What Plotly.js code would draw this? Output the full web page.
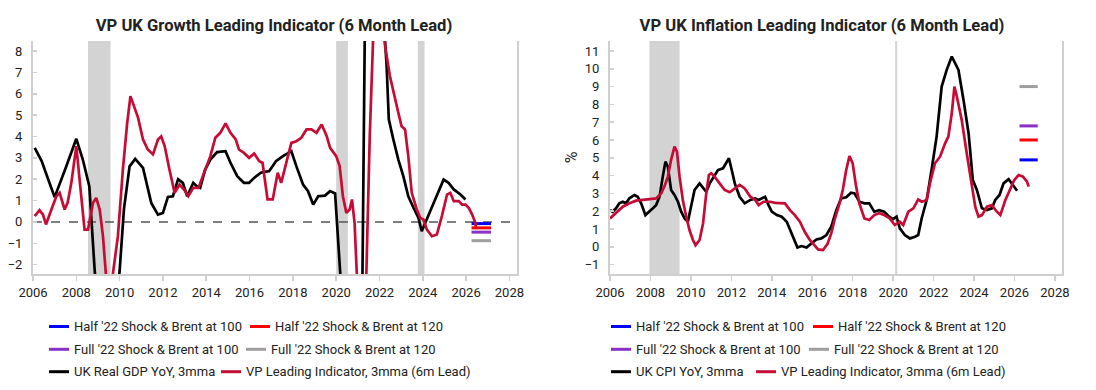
<!DOCTYPE html>
<html><head><meta charset="utf-8">
<script src="https://cdn.plot.ly/plotly-3.0.1.min.js"></script>
<style>
html,body{margin:0;padding:0;background:#fff;overflow:hidden}
#wrap{display:flex;width:1096px;height:390px}
#growth,#inflation{width:548px;height:390px}
</style></head>
<body><div id="wrap"><div id="growth"></div><div id="inflation"></div></div>
<script>
// ---------- DATA ----------
const chartTitles = ["VP UK Growth Leading Indicator (6 Month Lead)", "VP UK Inflation Leading Indicator (6 Month Lead)"];
const scenarioNames = ["Half '22 Shock & Brent at 100", "Half '22 Shock & Brent at 120", "Full '22 Shock & Brent at 100", "Full '22 Shock & Brent at 120"];
const growthSeriesNames = ["UK Real GDP YoY, 3mma", "VP Leading Indicator, 3mma (6m Lead)"];
const inflationSeriesNames = ["UK CPI YoY, 3mma", "VP Leading Indicator, 3mma (6m Lead)"];
const xTickVals = [2006, 2008, 2010, 2012, 2014, 2016, 2018, 2020, 2022, 2024, 2026, 2028];
const scenarioX = [2026.25, 2027.15];
const growthScenarioValues = [-0.08, -0.28, -0.48, -0.88];
const inflationScenarioValues = [4.88, 6.0, 6.79, 9.0];
const growthRecessions = [[2008.54, 2009.58], [2020.0, 2020.54], [2023.77, 2024.08]];
const inflationRecessions = [[2007.95, 2009.44], [2020.1, 2020.2]];

const gdpX = [2006.08,2006.4,2006.7,2007.0,2007.5,2008.0,2008.3,2008.6,2008.85,2009.1,2009.4,2009.7,2010.0,2010.2,2010.46,2010.72,2011.08,2011.46,2011.77,2012.0,2012.23,2012.46,2012.7,2012.92,2013.12,2013.4,2013.56,2013.72,2013.95,2014.19,2014.5,2014.89,2015.12,2015.43,2015.74,2015.98,2016.21,2016.52,2016.91,2017.22,2017.54,2017.93,2018.16,2018.47,2018.7,2018.94,2019.17,2019.48,2019.72,2019.95,2020.2,2020.45,2020.7,2020.95,2021.2,2021.37,2021.6,2021.85,2022.1,2022.25,2022.33,2022.43,2022.64,2022.87,2023.1,2023.33,2023.57,2023.8,2023.95,2024.26,2024.57,2024.96,2025.19,2025.43,2025.74,2025.97];
const gdpY = [3.47,2.85,2.0,1.16,2.5,3.89,2.92,1.67,-2.3,-4.8,-6.2,-5.2,-2.3,0.6,2.6,2.95,2.53,0.89,0.34,0.42,1.17,1.2,2.0,1.83,1.2,1.83,1.67,1.59,2.45,2.92,3.27,3.31,2.77,2.14,1.83,1.83,2.06,2.3,2.38,2.84,3.08,3.31,2.61,1.75,1.44,0.81,1.2,1.23,1.44,1.33,-2.6,-20,-9,-6,-4,14,22,9.5,10,8.6,7.3,4.8,3.86,2.92,2.14,1.2,0.66,0.19,-0.44,0.27,1.05,1.98,1.83,1.52,1.28,1.05];

const growthLeadX = [2006.08,2006.3,2006.46,2006.6,2006.85,2007.08,2007.23,2007.46,2007.6,2007.77,2008.0,2008.23,2008.38,2008.54,2008.77,2008.92,2009.08,2009.23,2009.4,2009.55,2009.7,2009.92,2010.15,2010.35,2010.5,2010.7,2010.85,2011.08,2011.3,2011.54,2011.77,2011.92,2012.08,2012.3,2012.54,2012.77,2013.0,2013.17,2013.4,2013.64,2013.88,2014.19,2014.42,2014.65,2014.89,2015.12,2015.36,2015.51,2015.74,2015.98,2016.21,2016.45,2016.6,2016.83,2017.07,2017.3,2017.46,2017.69,2017.93,2018.16,2018.39,2018.63,2018.86,2019.09,2019.33,2019.56,2019.72,2020.0,2020.16,2020.31,2020.47,2020.62,2020.73,2020.85,2020.95,2021.15,2021.38,2021.55,2021.72,2021.95,2022.1,2022.25,2022.48,2022.71,2022.87,2023.02,2023.18,2023.33,2023.49,2023.72,2023.88,2024.03,2024.19,2024.42,2024.65,2024.88,2025.12,2025.27,2025.43,2025.66,2025.81,2025.97,2026.12,2026.28,2026.43,2026.46];
const growthLeadY = [0.27,0.55,0.34,-0.12,0.58,1.2,1.36,0.58,0.9,1.83,3.55,1.36,-0.36,-0.36,0.89,1.12,0.58,-0.67,-2.9,-3.5,-2.4,-0.67,2.45,4.64,5.89,5.27,4.88,3.86,3.39,3.16,3.86,4.0,3.55,2.45,1.36,1.75,1.48,1.2,1.59,1.59,2.22,3.08,3.94,4.17,4.61,4.17,3.86,3.39,3.23,3.0,3.2,2.84,2.77,1.05,1.05,2.3,1.83,2.69,3.7,3.78,3.94,4.33,4.33,4.17,4.56,4.02,3.47,3.08,2.61,1.2,0.42,0.58,1.05,-0.05,-3,-7,-3,4.0,9,12,10.5,8.3,6.83,5.73,5.11,4.48,4.33,3.08,1.36,0.58,0.19,0.11,-0.36,-0.67,-0.59,0.27,1.28,1.36,0.97,0.97,0.81,0.81,0.66,0.34,-0.05,-0.3];

const cpiX = [2006.0,2006.13,2006.3,2006.46,2006.63,2006.79,2006.96,2007.21,2007.37,2007.54,2007.75,2007.95,2008.12,2008.28,2008.45,2008.61,2008.74,2008.86,2009.02,2009.19,2009.36,2009.52,2009.69,2009.85,2009.97,2010.18,2010.43,2010.6,2010.76,2010.93,2011.17,2011.34,2011.59,2011.75,2011.88,2012.0,2012.17,2012.41,2012.66,2012.94,2013.18,2013.35,2013.51,2013.67,2013.84,2014.0,2014.25,2014.49,2014.74,2014.9,2015.11,2015.27,2015.47,2015.72,2015.96,2016.21,2016.45,2016.7,2016.94,2017.19,2017.43,2017.68,2017.92,2018.09,2018.33,2018.58,2018.82,2019.07,2019.31,2019.56,2019.8,2020.0,2020.17,2020.33,2020.58,2020.83,2021.08,2021.24,2021.41,2021.66,2021.9,2022.15,2022.4,2022.65,2022.9,2023.06,2023.23,2023.48,2023.73,2023.94,2024.14,2024.39,2024.64,2024.88,2025.05,2025.26,2025.46,2025.71,2025.93,2026.13];
const cpiY = [2.06,1.97,2.16,2.44,2.53,2.44,2.72,2.91,2.81,2.44,1.78,1.97,2.16,2.34,2.81,3.94,4.78,4.5,3.19,2.91,2.53,1.97,1.59,1.41,2.06,3.19,3.56,3.28,3.09,3.56,4.03,4.31,4.41,4.69,4.97,4.41,3.56,2.81,2.44,2.63,2.72,2.63,2.72,2.81,2.34,1.97,1.78,1.69,1.41,0.94,0.38,-0.04,0.04,-0.04,0.19,0.41,0.47,0.66,1.13,2.06,2.72,2.78,3.04,3.0,2.53,2.44,2.44,1.97,2.06,1.97,1.69,1.55,1.69,1.03,0.66,0.47,0.56,0.66,1.59,2.63,4.31,6.19,9.0,9.94,10.69,10.31,9.94,8.25,6.38,3.75,3.19,2.16,2.06,2.16,2.63,2.91,3.56,3.79,3.47,3.15];

const inflationLeadX = [2006.0,2006.3,2006.63,2006.96,2007.29,2007.62,2007.95,2008.28,2008.53,2008.69,2008.86,2009.02,2009.19,2009.31,2009.44,2009.6,2009.77,2009.93,2010.1,2010.23,2010.43,2010.6,2010.76,2010.89,2011.0,2011.17,2011.42,2011.67,2011.92,2012.17,2012.41,2012.66,2012.94,2013.18,2013.35,2013.59,2013.92,2014.16,2014.49,2014.65,2014.9,2015.14,2015.39,2015.63,2015.88,2016.04,2016.29,2016.53,2016.75,2016.94,2017.1,2017.35,2017.51,2017.68,2017.84,2018.0,2018.17,2018.33,2018.58,2018.82,2019.07,2019.31,2019.56,2019.83,2020.08,2020.33,2020.5,2020.75,2021.0,2021.24,2021.41,2021.66,2021.82,2022.07,2022.32,2022.57,2022.73,2022.9,2023.03,2023.15,2023.39,2023.64,2023.89,2024.06,2024.22,2024.39,2024.64,2024.88,2025.13,2025.3,2025.55,2025.79,2025.99,2026.21,2026.42,2026.62,2026.7];
const inflationLeadY = [1.59,1.88,2.25,2.44,2.59,2.63,2.66,2.72,3.0,3.38,3.94,4.88,5.63,5.34,3.94,2.63,1.69,0.94,0.38,0.09,0.38,1.31,3.0,4.03,4.13,3.94,3.56,3.19,3.06,3.28,3.47,3.28,2.81,2.63,2.34,2.53,2.53,2.47,2.44,2.44,2.06,1.78,1.41,0.84,0.38,0.19,-0.15,-0.19,0.15,0.75,1.5,2.44,3.19,4.31,5.1,4.69,3.38,2.44,1.59,1.5,1.78,1.88,1.78,1.59,1.22,1.41,1.22,1.97,2.16,2.66,2.53,2.63,3.56,4.69,5.06,5.81,6.19,7.5,9.0,8.44,7.13,5.25,3.56,2.25,1.69,1.78,2.25,2.34,1.97,1.78,2.63,3.28,3.75,4.03,3.94,3.66,3.38];

// ---------- STYLE ----------
const scenarioColors = ['#0000ff', '#ff0000', '#8b2fc9', '#9e9e9e'];
const actualColor = '#000000';
const leadColor = '#c60c35';
const FONT = 'Roboto, "Noto Sans", Arial, sans-serif';
const H = 390, W = 548;

function buildChart(div, cfg) {
  const m = cfg.margin;
  const pw = W - m.l - m.r, ph = H - m.t - m.b;
  const px = x => (x - m.l) / pw;
  const py = y => (H - m.b - y) / ph;
  const traces = [];
  cfg.scenarioValues.forEach((v, i) => {
    traces.push({x: scenarioX, y: [v, v], mode: 'lines', line: {color: scenarioColors[i], width: 3},
      showlegend: false, hoverinfo: 'skip', name: scenarioNames[i]});
  });
  traces.push({x: cfg.actualX, y: cfg.actualY, mode: 'lines', line: {color: actualColor, width: 2.7}, showlegend: false, name: cfg.seriesNames[0]});
  traces.push({x: cfg.leadX, y: cfg.leadY, mode: 'lines', line: {color: leadColor, width: 2.7}, showlegend: false, name: cfg.seriesNames[1]});

  const shapes = cfg.recessions.map(r => ({type: 'rect', xref: 'x', yref: 'paper', x0: r[0], x1: r[1], y0: 0, y1: 1,
    fillcolor: '#d3d3d3', line: {width: 0}, layer: 'below'}));
  if (cfg.zeroLine) shapes.push({type: 'line', xref: 'paper', yref: 'y', x0: 0, x1: 1, y0: 0, y1: 0,
    line: {color: '#555', width: 1.5, dash: 'dash'}, layer: 'below'});

  // manual legend
  const labels = scenarioNames.concat(cfg.seriesNames);
  const colors = scenarioColors.concat([actualColor, leadColor]);
  const annotations = [];
  labels.forEach((lab, i) => {
    const row = Math.floor(i / 2), col = i % 2;
    const x0 = cfg.legendX[row][col], y = cfg.legendY[row];
    shapes.push({type: 'line', xref: 'paper', yref: 'paper', x0: px(x0), x1: px(x0 + 20), y0: py(y), y1: py(y),
      line: {color: colors[i], width: 3}});
    annotations.push({text: lab, xref: 'paper', yref: 'paper', x: px(x0 + 23), y: py(y), xanchor: 'left', yanchor: 'middle',
      showarrow: false, font: {family: FONT, size: 13, color: '#222'}});
  });

  const layout = {
    width: W, height: H, margin: m, paper_bgcolor: '#fff', plot_bgcolor: '#fff', showlegend: false,
    font: {family: FONT, size: 13, color: '#222'},
    title: {text: cfg.title, x: 0.5, xref: 'container', xanchor: 'center', y: 1 - 25 / H, yref: 'container', yanchor: 'middle',
      font: {family: FONT, size: 16.6, weight: 700, color: '#222'}},
    xaxis: {range: [2006, 2028.35], tickvals: xTickVals, ticktext: xTickVals.map(String), showgrid: false, zeroline: false,
      showline: true, linecolor: '#cfcfcf', linewidth: 2, ticks: 'outside', ticklen: 5, tickcolor: '#cfcfcf', tickwidth: 1.5,
      tickfont: {family: FONT, size: 13, color: '#222'}},
    yaxis: {range: cfg.yRange, dtick: 1, showgrid: false, zeroline: false, showline: true, mirror: true,
      linecolor: '#cfcfcf', linewidth: 2, ticks: 'inside', ticklen: 4, tickcolor: '#cfcfcf', tickwidth: 1.5,
      ticklabelstandoff: 6, tickfont: {family: FONT, size: 13, color: '#222'},
      title: cfg.yTitle ? {text: cfg.yTitle, font: {family: FONT, size: 16, color: '#222'}, standoff: 3} : undefined},
    shapes: shapes, annotations: annotations
  };
  Plotly.newPlot(div, traces, layout, {displayModeBar: false, staticPlot: true});
}

buildChart('growth', {
  title: chartTitles[0], margin: {l: 33, r: 31, t: 41, b: 116},
  yRange: [-2.44, 8.47], scenarioValues: growthScenarioValues, recessions: growthRecessions, zeroLine: true,
  actualX: gdpX, actualY: gdpY, leadX: growthLeadX, leadY: growthLeadY, seriesNames: growthSeriesNames,
  legendX: [[49, 250], [49, 246], [49, 221]], legendY: [326.5, 349.3, 371.7]
});
buildChart('inflation', {
  title: chartTitles[1], margin: {l: 62, r: 34, t: 41, b: 116}, yTitle: '%',
  yRange: [-1.53, 11.56], scenarioValues: inflationScenarioValues, recessions: inflationRecessions, zeroLine: false,
  actualX: cpiX, actualY: cpiY, leadX: inflationLeadX, leadY: inflationLeadY, seriesNames: inflationSeriesNames,
  legendX: [[63, 265], [63, 261], [63, 208]], legendY: [326.5, 349.3, 371.7]
});
</script>
</body></html>
